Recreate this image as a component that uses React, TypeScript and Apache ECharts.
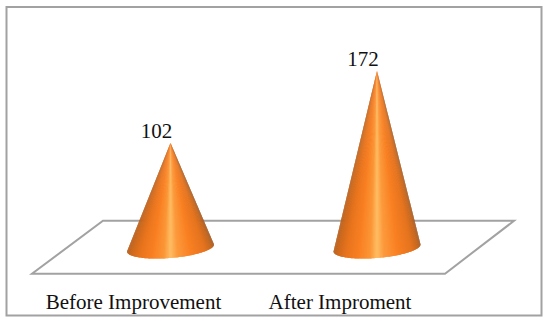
import React, { useEffect, useRef } from "react";
import * as echarts from "echarts";

const categories = ["Before Improvement", "After Improment"];
const values = [102, 172];

const serif = "'Liberation Serif', serif";
const shadePositions = [0, 0.05, 0.14, 0.28, 0.42, 0.5, 0.58, 0.74, 0.9, 0.97, 1];
const shadeColors = ["#b8601f", "#d06a1c", "#e8741d", "#f97f22", "#fb9636", "#ffbd64", "#fc9a3c", "#f98022", "#e5741f", "#c7681f", "#a85e28"];

function shade(u: number) {
  let i = 0;
  while (i < shadePositions.length - 2 && u > shadePositions[i + 1]) i++;
  const f = (u - shadePositions[i]) / (shadePositions[i + 1] - shadePositions[i]);
  return echarts.color.lerp(f, [shadeColors[i], shadeColors[i + 1]]);
}

export default function App() {
  const ref = useRef<HTMLDivElement>(null);
  useEffect(() => {
    const chart = echarts.init(ref.current!, undefined, { renderer: "svg" });
    chart.setOption({
      animation: false,
      backgroundColor: "#fff",
      grid: { left: 67.25, width: 206.5 * 2, top: 42.3, height: 205.7 },
      xAxis: {
        type: "category",
        data: categories,
        axisLine: { show: false },
        axisTick: { show: false },
        axisLabel: {
          interval: 0,
          margin: 43,
          fontFamily: serif,
          fontSize: 21,
          color: "#111",
          padding: [0, 74, 0, 0],
        },
      },
      yAxis: { type: "value", min: 0, max: 200, show: false },
      graphic: [
        {
          type: "rect",
          silent: true,
          z: 0,
          shape: { x: 6.5, y: 7, width: 535, height: 308.5 },
          style: { fill: "#fff", stroke: "#a2a2a2", lineWidth: 2 },
        },
        {
          type: "polygon",
          silent: true,
          z: 0,
          shape: { points: [[103, 220.8], [514, 220.8], [445, 273.7], [32, 273.7]] },
          style: { fill: "#fff", stroke: "#a2a2a2", lineWidth: 2 },
        },
      ],
      series: [
        {
          type: "custom",
          z: 5,
          data: values.map((v, i) => [i, v]),
          encode: { x: 0, y: 1 },
          renderItem: (_p: any, api: any) => {
            const [ax, ay] = api.coord([api.value(0), api.value(1)]);
            const [, by] = api.coord([api.value(0), 0]);
            const a = 43.5, tilt = 3.5, depth = 10, n = 90;
            const point = (k: number) => {
              const t = Math.PI - (k / n) * Math.PI;
              return [ax + a * Math.cos(t), by - tilt * Math.cos(t) + depth * Math.sin(t)];
            };
            const children: any[] = [];
            for (let k = 0; k < n; k++) {
              const t = Math.PI - ((k + 0.5) / n) * Math.PI;
              const c = shade((Math.cos(t) + 1) / 2);
              const pts = [[ax, ay], point(k), point(k + 1)];
              if (k + 2 <= n) pts.push(point(k + 2));
              children.push({
                type: "polygon",
                shape: { points: pts },
                style: { fill: c },
              });
            }
            children.push({
              type: "text",
              style: {
                x: ax - 14,
                y: ay - 12,
                text: String(api.value(1)),
                align: "center",
                verticalAlign: "middle",
                fontFamily: serif,
                fontSize: 21,
                fill: "#111",
              },
            });
            return { type: "group", children };
          },
        },
      ],
    });
    return () => chart.dispose();
  }, []);
  return <div ref={ref} style={{ width: 550, height: 322, position: "fixed", left: 0, top: 0 }} />;
}
